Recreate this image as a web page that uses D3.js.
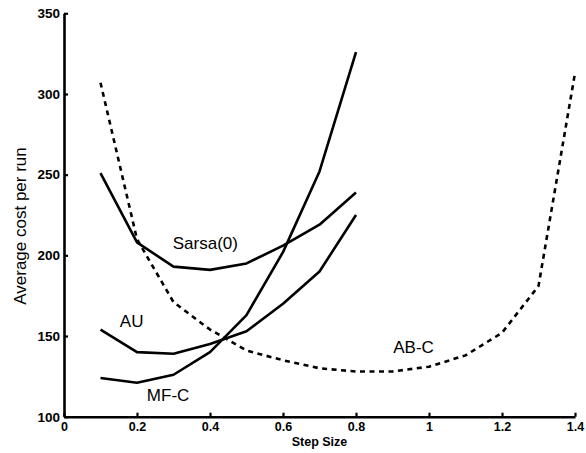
<!DOCTYPE html>
<html>
<head>
<meta charset="utf-8">
<script src="https://cdn.jsdelivr.net/npm/d3@7"></script>
<style>
  html, body { margin: 0; padding: 0; background: #fff; }
  svg { display: block; }
  text { font-family: "Liberation Sans", Arial, Helvetica, sans-serif; fill: #000; }
</style>
</head>
<body>
<svg id="chart" width="586" height="453"></svg>
<script>
// Step sizes for the three solid-line methods
const steps = [0.1, 0.2, 0.3, 0.4, 0.5, 0.6, 0.7, 0.8];
const sarsa = [251, 208, 193, 191, 195, 206, 219, 239];
const au    = [154, 140, 139, 145, 153, 170, 190, 225];
const mfc   = [124, 121, 126, 140, 163, 202, 252, 326];

// AB-C was swept over a wider range of step sizes
const abcSteps = [0.1, 0.2, 0.3, 0.4, 0.5, 0.6, 0.7, 0.8, 0.9, 1.0, 1.1, 1.2, 1.3, 1.4];
const abc      = [307, 210, 171, 154, 141, 135, 130, 128, 128, 131, 138, 152, 181, 313];

const xTicks = [0, 0.2, 0.4, 0.6, 0.8, 1, 1.2, 1.4];
const yTicks = [100, 150, 200, 250, 300, 350];

const svg = d3.select("#chart");

const x = d3.scaleLinear().domain([0, 1.4]).range([64, 575]);
const y = d3.scaleLinear().domain([100, 350]).range([416.7, 13.3]);

// Axes: heavy black lines with short inward ticks
const xAxis = d3.axisBottom(x)
  .tickValues(xTicks)
  .tickFormat(d => d === 0 || d === 1 ? d3.format("d")(d) : d3.format(".1f")(d))
  .tickSizeInner(-4).tickSizeOuter(0).tickPadding(5);

const yAxis = d3.axisLeft(y)
  .tickValues(yTicks)
  .tickFormat(d3.format("d"))
  .tickSizeInner(-4).tickSizeOuter(0).tickPadding(4);

const gx = svg.append("g")
  .attr("transform", `translate(0,${y(100)})`)
  .call(xAxis);
gx.select(".domain").attr("stroke", "#000").attr("stroke-width", 2.6);
gx.selectAll(".tick line").attr("stroke", "#000").attr("stroke-width", 2.2);
gx.selectAll(".tick text")
  .attr("font-size", 12.5).attr("font-weight", "bold")
  .attr("font-family", "'Liberation Sans', Arial, sans-serif");

const gy = svg.append("g")
  .attr("transform", `translate(${x(0)},0)`)
  .call(yAxis);
gy.select(".domain").attr("stroke", "#000").attr("stroke-width", 2.6);
gy.selectAll(".tick line").attr("stroke", "#000").attr("stroke-width", 2.2);
gy.selectAll(".tick text")
  .attr("font-size", 13.5).attr("font-weight", "bold")
  .attr("font-family", "'Liberation Sans', Arial, sans-serif");

// Axis titles
svg.append("text")
  .attr("x", (x(0) + x(1.4)) / 2)
  .attr("y", 446)
  .attr("text-anchor", "middle")
  .attr("font-size", 12.5)
  .attr("font-weight", "bold")
  .text("Step Size");

svg.append("text")
  .attr("transform", `translate(26,226) rotate(-90)`)
  .attr("text-anchor", "middle")
  .attr("font-size", 17)
  .text("Average cost per run");

// Curves
const line = d3.line()
  .x(d => x(d[0]))
  .y(d => y(d[1]));

function drawSeries(xs, ys, dashed) {
  svg.append("path")
    .datum(xs.map((s, i) => [s, ys[i]]))
    .attr("fill", "none")
    .attr("stroke", "#000")
    .attr("stroke-width", 2.6)
    .attr("stroke-linejoin", "round")
    .attr("stroke-dasharray", dashed ? "5,4.5" : null)
    .attr("d", line);
}

drawSeries(steps, sarsa, false);
drawSeries(steps, au, false);
drawSeries(steps, mfc, false);
drawSeries(abcSteps, abc, true);

// Curve labels
const labels = [
  { text: "Sarsa(0)", xv: 0.298, yv: 204 },
  { text: "AU",       xv: 0.153, yv: 155.5 },
  { text: "MF-C",     xv: 0.227, yv: 109.5 },
  { text: "AB-C",     xv: 0.902, yv: 139.5 }
];
svg.selectAll("text.curve-label")
  .data(labels)
  .join("text")
  .attr("class", "curve-label")
  .attr("x", d => x(d.xv))
  .attr("y", d => y(d.yv))
  .attr("font-size", 17)
  .text(d => d.text);
</script>
</body>
</html>
